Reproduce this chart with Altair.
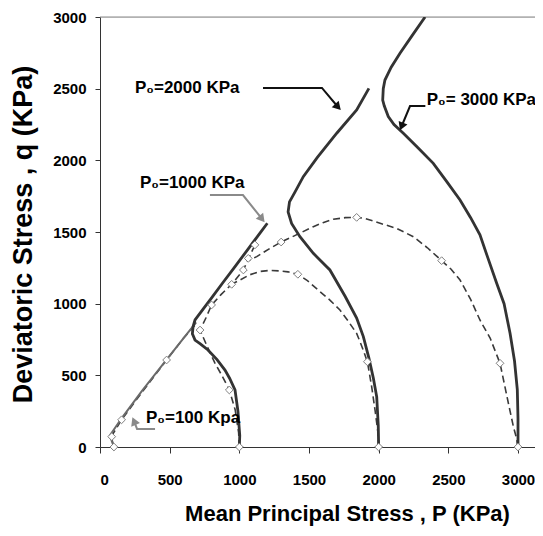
import altair as alt
import pandas as pd

# ---------------- data ----------------
# solid curves
s100_p = [100, 85, 70, 155, 300, 478, 600, 690]
s100_q = [0, 40, 80, 200, 390, 610, 760, 870]

s1000_p = [1000, 1003, 990, 969, 930, 897, 840, 775, 720, 682, 663, 668, 682, 740, 801, 880, 969, 1060, 1160, 1201]
s1000_q = [0, 80, 250, 398, 480, 537, 610, 677, 720, 746, 790, 840, 886, 962, 1041, 1144, 1259, 1377, 1508, 1561]

s2000_p = [2000, 1997, 1986, 1962, 1930, 1890, 1842, 1760, 1650, 1531, 1435, 1375, 1350, 1360, 1400, 1459, 1560, 1699, 1842, 1930]
s2000_q = [0, 150, 350, 480, 620, 770, 900, 1050, 1235, 1351, 1467, 1560, 1640, 1710, 1780, 1886, 2020, 2189, 2351, 2502]

s3000_p = [3000, 3000, 2995, 2975, 2943, 2900, 2847, 2780, 2727, 2660, 2584, 2490, 2392, 2280, 2177, 2110, 2069, 2040, 2029, 2033, 2045, 2090, 2153, 2240, 2333]
s3000_q = [0, 200, 400, 600, 793, 1000, 1142, 1330, 1480, 1600, 1723, 1850, 1979, 2090, 2189, 2250, 2305, 2380, 2421, 2500, 2560, 2650, 2747, 2870, 3000]

# dashed curves
d100_p = [100, 80, 155, 300, 478, 600, 690]
d100_q = [0, 72, 190, 380, 607, 760, 860]

d1000_p = [1000, 995, 970, 928, 880, 825, 770, 718, 760, 801, 870, 945, 1029, 1064, 1112]
d1000_q = [0, 100, 260, 398, 490, 585, 700, 816, 900, 991, 1065, 1135, 1235, 1310, 1410]

d2000_p = [2000, 1995, 1975, 1950, 1919, 1880, 1842, 1780, 1722, 1650, 1579, 1483, 1420, 1350, 1292, 1220, 1148, 1070, 1005, 945]
d2000_q = [0, 100, 250, 420, 595, 700, 793, 880, 956, 1025, 1084, 1165, 1205, 1222, 1228, 1232, 1225, 1200, 1165, 1135]

d3000_p = [3000, 2990, 2967, 2931, 2871, 2800, 2727, 2660, 2584, 2520, 2452, 2350, 2249, 2130, 2010, 1900, 1842, 1760, 1675, 1600, 1531, 1420, 1300, 1220, 1125, 1064]
d3000_q = [0, 60, 142, 305, 584, 760, 886, 1030, 1165, 1240, 1300, 1390, 1467, 1525, 1561, 1595, 1602, 1600, 1589, 1565, 1537, 1485, 1430, 1386, 1328, 1300]

# diamond markers on dashed curves
mk_p = [100, 84, 155, 478, 1000, 928, 718, 801, 1064, 1112, 2000, 1919, 1420, 945, 3000, 2871, 2452, 1842, 1300, 1029]
mk_q = [0, 72, 190, 607, 0, 398, 816, 991, 1316, 1410, 0, 595, 1205, 1135, 0, 584, 1300, 1602, 1430, 1235]

# annotations
lab_text = ["P\u2080=2000 KPa", "P\u2080= 3000 KPa", "P\u2080=1000 KPa", "P\u2080=100 Kpa"]
lab_p = [251, 2345, 287, 330]
lab_q = [2505, 2421, 1842, 202]

arrow_id = ["a2000", "a2000", "a2000", "a3000", "a3000", "a3000", "a1000", "a1000", "a1000", "a100", "a100", "a100"]
arrow_p = [1170, 1593, 1708, 2335, 2225, 2164, 789, 1026, 1163, 395, 266, 244]
arrow_q = [2505, 2505, 2372, 2379, 2379, 2236, 1758, 1758, 1591, 126, 126, 181]
arrow_col = ["#111"] * 6 + ["#8a8a8a"] * 6

head_p = [1708, 2164, 1163, 244]
head_q = [2372, 2236, 1591, 181]
head_ang = [137, 202, 141, 337]
head_col = ["#111", "#111", "#8a8a8a", "#8a8a8a"]

x_ticks = [0, 500, 1000, 1500, 2000, 2500, 3000]
y_ticks = [0, 500, 1000, 1500, 2000, 2500, 3000]


def frame(name, ps, qs):
    return pd.DataFrame({"curve": name, "P": ps, "q": qs, "i": list(range(len(ps)))})


solid_df = pd.concat([frame("1000", s1000_p, s1000_q),
                      frame("2000", s2000_p, s2000_q),
                      frame("3000", s3000_p, s3000_q)])
s100_df = frame("100", s100_p, s100_q)
dash_df = pd.concat([frame("100", d100_p, d100_q),
                     frame("1000", d1000_p, d1000_q),
                     frame("2000", d2000_p, d2000_q),
                     frame("3000", d3000_p, d3000_q)])
mk_df = pd.DataFrame({"P": mk_p, "q": mk_q})
lab_df = pd.DataFrame({"t": lab_text, "P": lab_p, "q": lab_q})
arr_df = pd.DataFrame({"id": arrow_id, "P": arrow_p, "q": arrow_q, "c": arrow_col,
                       "i": list(range(len(arrow_p)))})
head_df = pd.DataFrame({"P": head_p, "q": head_q, "a": head_ang, "c": head_col})

SANS = "Liberation Sans, Arial, sans-serif"

xs = alt.Scale(domain=[0, 3122], nice=False, zero=False)
ys = alt.Scale(domain=[0, 3000], nice=False)

X = alt.X("P:Q", scale=xs, axis=alt.Axis(
    values=x_ticks, format="d", title="Mean Principal Stress , P (KPa)",
    titleFont=SANS, titleFontSize=22, titleFontWeight="bold", titleColor="black",
    titleX=247, titleY=66, titleBaseline="middle", titleAlign="center",
    labelFont=SANS, labelFontSize=15, labelFontWeight="bold", labelColor="black",
    labelPadding=19, tickSize=6, grid=False, domainColor="#333", tickColor="#333"))
Y = alt.Y("q:Q", scale=ys, axis=alt.Axis(
    values=y_ticks, format="d", title="Deviatoric Stress , q (KPa)",
    titleFont=SANS, titleFontSize=27, titleFontWeight="bold", titleColor="black",
    titleX=-77, titleY=217, titleBaseline="middle", titleAlign="center", titleAngle=270,
    labelFont=SANS, labelFontSize=15, labelFontWeight="bold", labelColor="black",
    labelPadding=9, tickSize=5, grid=False, domainColor="#333", tickColor="#333"))

top_line = alt.Chart(pd.DataFrame({"q": [3000]})).mark_rule(color="#888", strokeWidth=1).encode(
    y=alt.Y("q:Q", scale=ys))

dashed = alt.Chart(dash_df).mark_line(strokeDash=[7, 4], strokeWidth=1.6, color="#3a3a3a", clip=True).encode(
    x=X, y=Y, detail="curve:N", order="i:Q")

s100 = alt.Chart(s100_df).mark_line(strokeWidth=2, color="#6a6a6a", clip=True).encode(
    x=X, y=Y, order="i:Q")

solid = alt.Chart(solid_df).mark_line(strokeWidth=2.8, color="#333", clip=True).encode(
    x=X, y=Y, detail="curve:N", order="i:Q")

marks = alt.Chart(mk_df).mark_point(shape="diamond", filled=True, fill="white", stroke="#808080",
                                    strokeWidth=1, size=60, opacity=1).encode(x=X, y=Y)

labels = alt.Chart(lab_df).mark_text(align="left", baseline="middle", font=SANS, fontSize=17,
                                     fontWeight="bold", color="black").encode(x=X, y=Y, text="t:N")

arrows = alt.Chart(arr_df).mark_line(strokeWidth=2).encode(
    x=X, y=Y, detail="id:N", order="i:Q", color=alt.Color("c:N", scale=None))

heads = alt.Chart(head_df).mark_point(shape="triangle-up", filled=True, size=90, opacity=1).encode(
    x=X, y=Y, angle=alt.Angle("a:Q", scale=None), color=alt.Color("c:N", scale=None))

chart = alt.layer(top_line, dashed, s100, solid, marks, arrows, heads, labels).properties(
    width=435, height=430,
    autosize=alt.AutoSizeParams(type="none"),
    padding={"left": 92, "top": 9, "right": 0, "bottom": 81},
).configure_view(stroke=None).configure(background="white")

chart.save("out.html", embed_options={"renderer": "svg", "actions": False})
